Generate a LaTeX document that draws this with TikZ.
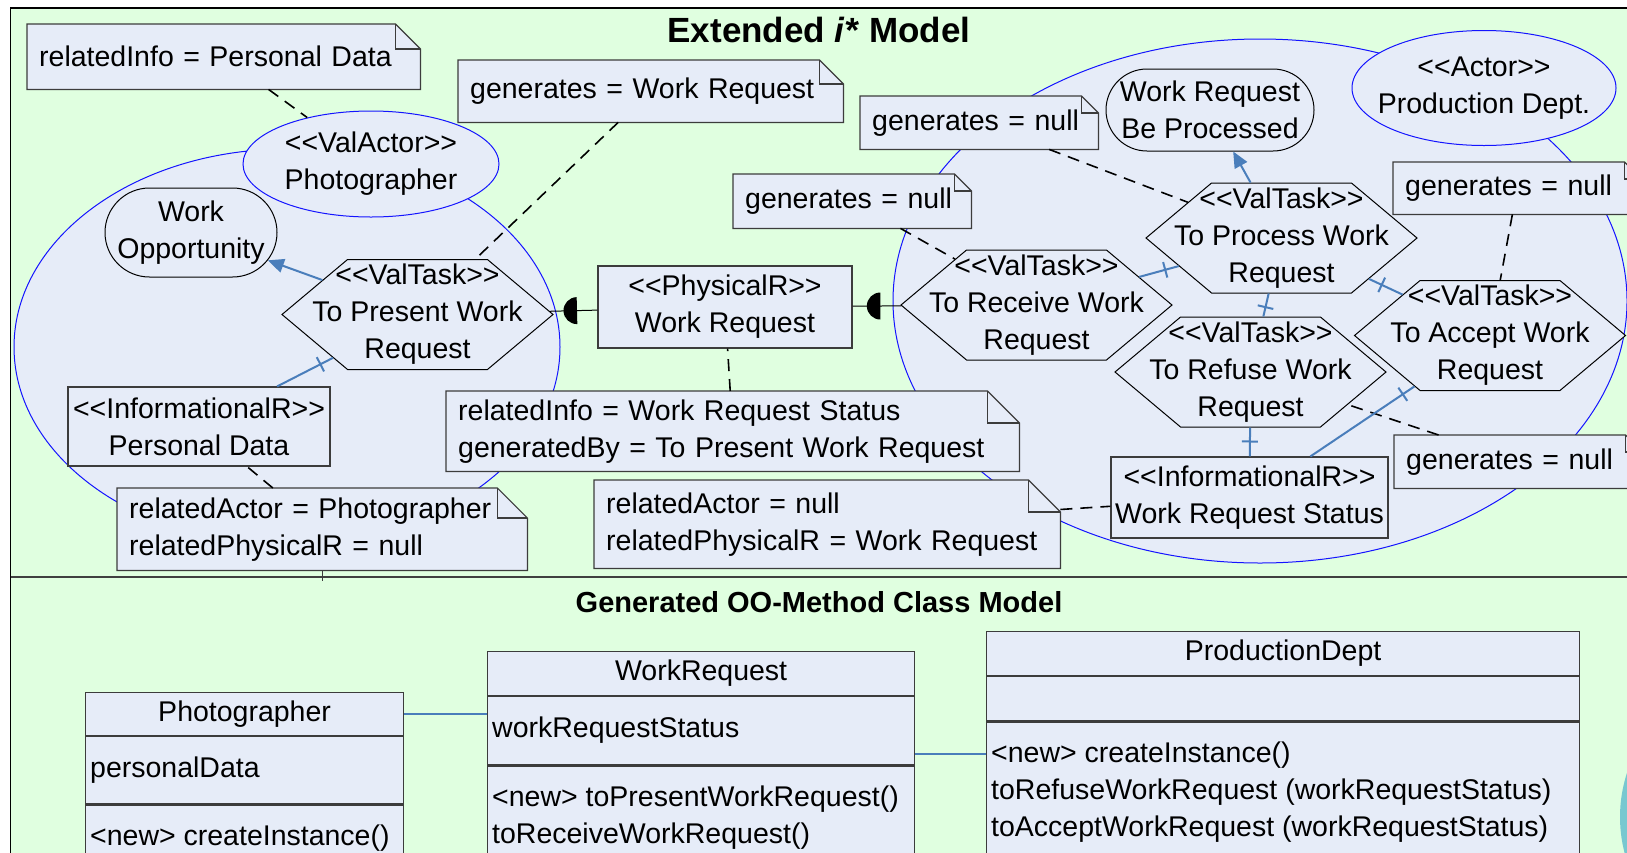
\documentclass[tikz,border=0pt]{standalone}
\usepackage{fontspec}
\newfontfamily\dgmfont{Liberation Sans}
\usetikzlibrary{shapes.geometric,shapes.misc,shapes.symbols,arrows.meta,decorations.markings,positioning}

\definecolor{bggreen}{RGB}{224,255,224}
\definecolor{boxfill}{RGB}{230,236,248}
\definecolor{bndblue}{RGB}{20,20,255}
\definecolor{linkblue}{RGB}{74,126,187}
\definecolor{notegray}{RGB}{60,60,60}
\definecolor{tealdot}{RGB}{120,200,208}

\pgfdeclarelayer{paper}
\pgfsetlayers{paper,main}

\begin{document}
\begin{tikzpicture}[
        x=1pt, y=-1pt,
        every node/.style={
            font=\dgmfont\fontsize{28.5}{37}\selectfont
        },
        boundary/.style={draw=bndblue, fill=boxfill, line width=1pt},
        actor/.style={ellipse, draw=bndblue, fill=boxfill, line width=1pt, inner sep=0pt},
        goal/.style={rounded rectangle, draw=black, fill=boxfill, line width=1pt, inner sep=0pt},
        task/.style={
            signal, signal to=west and east, signal pointer angle=80,
            draw=black, fill=boxfill, line width=1pt, inner sep=0pt,
            minimum width=271pt, minimum height=110pt
        },
        inside/.style={align=center, inner sep=0pt},
        resource/.style={draw=notegray, fill=boxfill, line width=1.2pt, inner sep=1pt, align=center},
        note/.style={
            anchor=north west, align=left, inner xsep=12pt, inner ysep=0pt,
            append after command={\pgfextra{
                \begin{pgfonlayer}{paper}
                \filldraw[draw=notegray, fill=boxfill, line width=1.2pt]
                    (\tikzlastnode.north west) -- ([xshift=-#1]\tikzlastnode.north east)
                    -- ([yshift=-#1]\tikzlastnode.north east) -- (\tikzlastnode.south east)
                    -- (\tikzlastnode.south west) -- cycle;
                \draw[notegray, line width=1.2pt] ([xshift=-#1]\tikzlastnode.north east)
                    |- ([yshift=-#1]\tikzlastnode.north east);
                \end{pgfonlayer}}}
        },
        note/.default=25pt,
        notelink/.style={draw=black, line width=1.6pt, dash pattern=on 12pt off 8pt},
        meansend/.style={draw=linkblue, line width=2pt, -{Triangle[length=16pt,width=14pt]}},
        declink/.style={
            draw=linkblue, line width=2pt, postaction={decorate},
            decoration={markings, mark=at position -14pt with {\draw[linkblue, line width=2pt] (0pt,-8pt) -- (0pt,8pt);}}
        },
        deplink/.style={
            draw=black, line width=1pt, postaction={decorate},
            decoration={markings, mark=at position 0.57 with {\fill[black] (0pt,13.5pt) arc[start angle=90, end angle=270, radius=13.5pt] -- cycle;}}
        },
        classpart/.style={draw=notegray, fill=boxfill, line width=1.2pt, inner sep=0pt, minimum width=#1},
        classtext/.style={anchor=north west, align=left, inner xsep=5pt, inner ysep=20pt},
        assoc/.style={draw=linkblue, line width=2pt}
    ]
    \useasboundingbox (0,0) rectangle (1627,852);
    % paper, frame and actor boundaries
    \begin{pgfonlayer}{paper}
        \fill[white] (0,0) rectangle (1627,852);
        \filldraw[fill=bggreen, draw=black, line width=1.5pt] (10.5,8) rectangle (1700,900);
        \fill[tealdot] (1762,817) circle [radius=142pt];
        \filldraw[boundary] (287,347) ellipse [x radius=273pt, y radius=198pt];
        \filldraw[boundary] (1260,301) ellipse [x radius=367pt, y radius=262pt];
    \end{pgfonlayer}
    \draw[black!75, line width=2pt] (10.5,577) -- (1700,577);

    % titles
    \node[font=\dgmfont\fontsize{35}{40}\selectfont\bfseries] (topTitle) at (819,30) {Extended \textit{i*} Model};
    \node[font=\dgmfont\fontsize{29}{34}\selectfont\bfseries] (lowTitle) at (819,602) {Generated OO-Method Class Model};

    % actors
    \node[actor, minimum width=256pt, minimum height=106pt,
        label={[inside]center:{<<ValActor>>\\Photographer}}] (photog) at (371,164) {};
    \node[actor, minimum width=264pt, minimum height=115pt,
        label={[inside]center:{<<Actor>>\\Production Dept.}}] (prodDept) at (1484,88) {};

    % goals
    \node[goal, minimum width=172pt, minimum height=89pt,
        label={[inside]center:{Work\\Opportunity}}] (workOpp) at (191,232.5) {};
    \node[goal, minimum width=208pt, minimum height=82pt,
        label={[inside]center:{Work Request\\Be Processed}}] (beProcessed) at (1210,110) {};

    % tasks
    \node[task, label={[inside]center:{<<ValTask>>\\To Present Work\\Request}}] (present) at (417.5,314.5) {};
    \node[task, label={[inside]center:{<<ValTask>>\\To Receive Work\\Request}}] (receive) at (1036.5,305) {};
    \node[task, label={[inside]center:{<<ValTask>>\\To Process Work\\Request}}] (process) at (1281.5,238) {};
    \node[task, label={[inside]center:{<<ValTask>>\\To Refuse Work\\Request}}] (refuse) at (1250.5,372) {};
    \node[task, label={[inside]center:{<<ValTask>>\\To Accept Work\\Request}}] (accept) at (1490,335.5) {};

    % resources
    \node[resource, minimum width=254pt, minimum height=82pt] (workReq) at (725,307) {<<PhysicalR>>\\Work Request};
    \node[resource, minimum width=262pt, minimum height=79pt] (persData) at (199,426.5) {<<InformationalR>>\\Personal Data};
    \node[resource, minimum width=277pt, minimum height=81pt] (wrStatus) at (1249.5,497.5) {<<InformationalR>>\\Work Request Status};

    % notes
    \node[note, text width=369pt, minimum height=65pt] (relInfoNote) at (27,24) {relatedInfo = Personal Data};
    \node[note=24pt, text width=361pt, minimum height=62pt] (genWorkReqNote) at (458,60) {generates = Work Request};
    \node[note=17pt, text width=214pt, minimum height=53pt] (genNullTop) at (860,96) {generates = null};
    \node[note=17pt, text width=214pt, minimum height=54pt] (genNullMid) at (733,174) {generates = null};
    \node[note=17pt, text width=224pt, minimum height=52pt] (genNullRight) at (1393,162) {generates = null};
    \node[note=17pt, text width=224pt, minimum height=53pt] (genNullLow) at (1394,435) {generates = null};
    \node[note=32pt, text width=549pt, minimum height=80pt] (wrInfoNote) at (446,391) {relatedInfo = Work Request Status\\generatedBy = To Present Work Request};
    \node[note=30pt, text width=386pt, minimum height=82pt] (photoActorNote) at (117,488) {relatedActor = Photographer\\relatedPhysicalR = null};
    \node[note=32pt, text width=442pt, minimum height=88pt] (nullActorNote) at (594,480) {relatedActor = null\\relatedPhysicalR = Work Request};

    % note links
    \draw[notelink] (relInfoNote) -- (photog);
    \draw[notelink] (genWorkReqNote) -- (present);
    \draw[notelink] (genNullTop) -- (process);
    \draw[notelink] (genNullMid) -- (receive);
    \draw[notelink] (genNullRight) -- (accept);
    \draw[notelink] (genNullLow) -- (refuse);
    \draw[notelink] (wrInfoNote) -- (workReq);
    \draw[notelink] (photoActorNote) -- (persData);
    \draw[notelink] (nullActorNote) -- (wrStatus);
    \draw[notegray, line width=1.2pt] (photoActorNote.south) -- ++(0,11);

    % means-end links
    \draw[meansend] (present) -- (workOpp);
    \draw[meansend] (process) -- (beProcessed);

    % decomposition links
    \draw[declink] (persData) -- (present);
    \draw[declink] (receive) -- (process);
    \draw[declink] (accept) -- (process);
    \draw[declink] (refuse) -- (process);
    \draw[declink] (wrStatus) -- (refuse);
    \draw[declink] (wrStatus) -- (accept);

    % dependency
    \draw[deplink] (present) -- (workReq);
    \draw[deplink] (workReq) -- (receive);

    % class model
    \node[classpart=318pt, minimum height=43pt, anchor=north west] (photoHead) at (85,692) {Photographer};
    \node[classpart=318pt, minimum height=67pt, below=0pt of photoHead] (photoAttr) {};
    \node[classpart=318pt, minimum height=80pt, below=0pt of photoAttr] (photoOps) {};
    \node[classtext] (photoAttrText) at (photoAttr.north west) {personalData};
    \node[classtext] (photoOpsText) at (photoOps.north west) {<new> createInstance()};

    \node[classpart=427pt, minimum height=44pt, anchor=north west] (wrHead) at (487,651) {WorkRequest};
    \node[classpart=427pt, minimum height=68pt, below=0pt of wrHead] (wrAttr) {};
    \node[classpart=427pt, minimum height=140pt, below=0pt of wrAttr] (wrOps) {};
    \node[classtext] (wrAttrText) at (wrAttr.north west) {workRequestStatus};
    \node[classtext] (wrOpsText) at (wrOps.north west) {<new> toPresentWorkRequest()\\toReceiveWorkRequest()};

    \node[classpart=593pt, minimum height=44pt, anchor=north west] (pdHead) at (986,631) {ProductionDept};
    \node[classpart=593pt, minimum height=44pt, below=0pt of pdHead] (pdAttr) {};
    \node[classpart=593pt, minimum height=180pt, below=0pt of pdAttr] (pdOps) {};
    \node[classtext] (pdOpsText) at (pdOps.north west) {<new> createInstance()\\toRefuseWorkRequest (workRequestStatus)\\toAcceptWorkRequest (workRequestStatus)};

    % associations
    \draw[assoc] (photoHead.east) -- (photoHead.east -| wrAttr.west);
    \coordinate (pdLink) at ([yshift=-33pt]pdOps.north west);
    \draw[assoc] (pdLink) -- (pdLink -| wrAttr.east);
\end{tikzpicture}
\end{document}
